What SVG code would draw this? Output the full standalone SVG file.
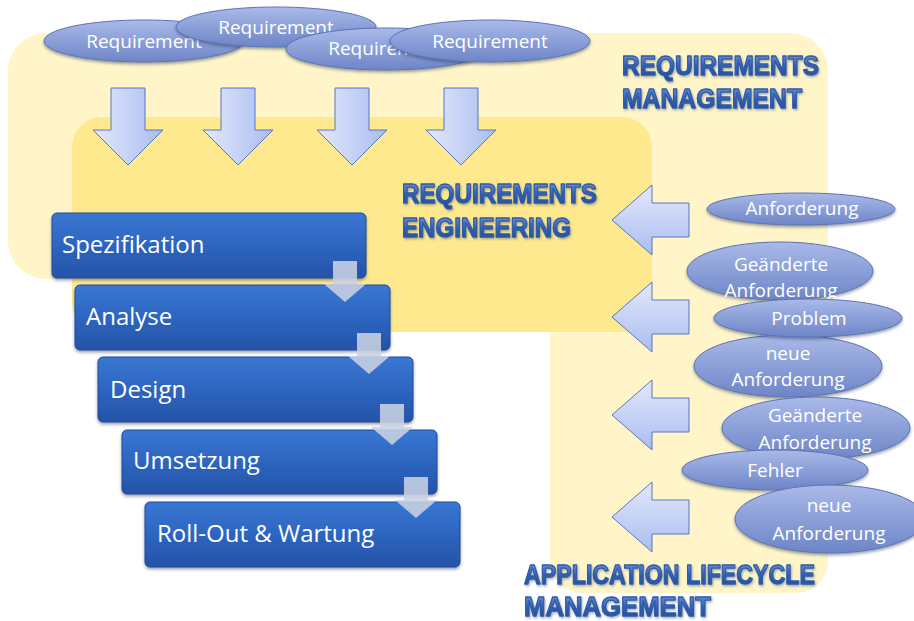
<svg xmlns="http://www.w3.org/2000/svg" width="914" height="621" viewBox="0 0 914 621">
<defs>
<linearGradient id="gDown" x1="0" y1="0" x2="1" y2="0"><stop offset="0" stop-color="#e3e9fb"/><stop offset="1" stop-color="#aabdf0"/></linearGradient>
<linearGradient id="gLeft" x1="0" y1="0" x2="0" y2="1"><stop offset="0" stop-color="#e3e9fb"/><stop offset="1" stop-color="#aabdf0"/></linearGradient>
<linearGradient id="gEll" x1="0" y1="0" x2="0" y2="1"><stop offset="0" stop-color="#aab9e8"/><stop offset="0.45" stop-color="#8ea2da"/><stop offset="1" stop-color="#6e85c6"/></linearGradient>
<linearGradient id="gBox" x1="0" y1="0" x2="0" y2="1"><stop offset="0" stop-color="#3a77d2"/><stop offset="0.5" stop-color="#2d65c0"/><stop offset="1" stop-color="#2553a7"/></linearGradient>
<linearGradient id="gTitle" x1="0" y1="0" x2="0" y2="1"><stop offset="0" stop-color="#7c9fe0"/><stop offset="0.5" stop-color="#3060b2"/><stop offset="1" stop-color="#1f4b9a"/></linearGradient>
<filter id="sh" x="-10%" y="-20%" width="120%" height="150%"><feDropShadow dx="0" dy="2" stdDeviation="1.5" flood-color="#203050" flood-opacity="0.45"/></filter>
<filter id="tsh" x="-5%" y="-20%" width="110%" height="150%"><feDropShadow dx="1" dy="1.5" stdDeviation="0.8" flood-color="#5a6a80" flood-opacity="0.55"/></filter>
<style>
.ell{fill:url(#gEll);stroke:#5d73b6;stroke-width:1;filter:url(#sh)}
.et{font-family:"Open Sans","Liberation Sans",sans-serif;font-size:19px;fill:#ffffff;text-anchor:middle}
.dn{fill:url(#gDown);stroke:#5577c4;stroke-width:1}
.lf{fill:url(#gLeft);stroke:#5577c4;stroke-width:1}
.box{fill:url(#gBox);stroke:#1f4c9c;stroke-width:1;filter:url(#sh)}
.bt{font-family:"Open Sans","Liberation Sans",sans-serif;font-size:24px;fill:#ffffff}
.ga{fill:#c9d1e3;fill-opacity:0.88}
.tt{font-family:"Liberation Sans",Arial,sans-serif;font-weight:bold;font-size:27px;fill:url(#gTitle);stroke:#2e5aa8;stroke-width:1.3;stroke-linejoin:round;filter:url(#tsh)}
</style>
</defs>

<g id="areas">
<rect id="rm-area" x="8" y="33" width="820" height="246" rx="38" fill="#fff5c9"/>
<rect id="alm-area" x="550" y="150" width="278" height="443" rx="32" fill="#fff5c9"/>
<rect id="re-area" x="72" y="117" width="580" height="215" rx="30" fill="#ffe98f"/>
</g>

<g id="titles">
<text class="tt" x="622" y="75" textLength="197" lengthAdjust="spacingAndGlyphs">REQUIREMENTS</text>
<text class="tt" x="622" y="108" textLength="180" lengthAdjust="spacingAndGlyphs">MANAGEMENT</text>
<text class="tt" x="402" y="203" textLength="195" lengthAdjust="spacingAndGlyphs">REQUIREMENTS</text>
<text class="tt" x="402" y="237" textLength="169" lengthAdjust="spacingAndGlyphs">ENGINEERING</text>
<text class="tt" x="524" y="584" textLength="291" lengthAdjust="spacingAndGlyphs">APPLICATION LIFECYCLE</text>
<text class="tt" x="524" y="616" textLength="187" lengthAdjust="spacingAndGlyphs">MANAGEMENT</text>
</g>

<g id="connectors">
<path class="dn" d="M111,88 H145 V130 H163 L128,165 L93,130 H111 Z"/>
<path class="dn" d="M221,88 H255 V130 H273 L238,165 L203,130 H221 Z"/>
<path class="dn" d="M335,88 H369 V130 H387 L352,165 L317,130 H335 Z"/>
<path class="dn" d="M444,88 H478 V130 H496 L461,165 L426,130 H444 Z"/>
<path class="lf" d="M612,220 L652,185 V203 H689 V237 H652 V255 Z"/>
<path class="lf" d="M612,317 L652,282 V300 H689 V334 H652 V352 Z"/>
<path class="lf" d="M612,415 L652,380 V398 H689 V432 H652 V450 Z"/>
<path class="lf" d="M612,517 L652,482 V500 H689 V534 H652 V552 Z"/>
</g>

<g id="req1"><ellipse class="ell" cx="144" cy="41" rx="100" ry="21"/><text class="et" x="144" y="48">Requirement</text></g>
<g id="req2"><ellipse class="ell" cx="276" cy="27" rx="100" ry="20"/><text class="et" x="276" y="34">Requirement</text></g>
<g id="req3"><ellipse class="ell" cx="386" cy="49" rx="100" ry="21"/><text class="et" x="386" y="55">Requirement</text></g>
<g id="req4"><ellipse class="ell" cx="490" cy="41" rx="100" ry="21"/><text class="et" x="490" y="48">Requirement</text></g>

<g id="in1"><ellipse class="ell" cx="801" cy="209" rx="94" ry="16"/><text class="et" x="802" y="215">Anforderung</text></g>
<g id="in2"><ellipse class="ell" cx="780" cy="271" rx="93" ry="29"/><text class="et" x="781" y="271">Geänderte</text><text class="et" x="781" y="297">Anforderung</text></g>
<g id="in4"><ellipse class="ell" cx="788" cy="366" rx="94" ry="31"/><text class="et" x="788" y="360">neue</text><text class="et" x="788" y="386">Anforderung</text></g>
<g id="in3"><ellipse class="ell" cx="808" cy="318" rx="94" ry="19"/><text class="et" x="809" y="325">Problem</text></g>
<g id="in5"><ellipse class="ell" cx="816" cy="428" rx="94" ry="31"/><text class="et" x="815" y="422">Geänderte</text><text class="et" x="815" y="449">Anforderung</text></g>
<g id="in6"><ellipse class="ell" cx="775" cy="470" rx="93" ry="20"/><text class="et" x="775" y="477">Fehler</text></g>
<g id="in7"><ellipse class="ell" cx="830" cy="519" rx="95" ry="34"/><text class="et" x="829" y="512">neue</text><text class="et" x="829" y="540">Anforderung</text></g>

<g id="spezifikation"><rect class="box" x="52" y="213" width="314" height="65" rx="5"/><text class="bt" x="62" y="253">Spezifikation</text></g>
<g id="analyse"><rect class="box" x="75" y="285" width="315" height="65" rx="5"/><text class="bt" x="86" y="325">Analyse</text></g>
<g id="design"><rect class="box" x="98" y="357" width="315" height="65" rx="5"/><text class="bt" x="110" y="398">Design</text></g>
<g id="umsetzung"><rect class="box" x="122" y="430" width="315" height="64" rx="5"/><text class="bt" x="133" y="469">Umsetzung</text></g>
<g id="rollout"><rect class="box" x="145" y="502" width="315" height="65" rx="5"/><text class="bt" x="157" y="542">Roll-Out &amp; Wartung</text></g>

<g id="flow-arrows">
<path class="ga" d="M333,261 H357 V284 H366 L345,302 L324,284 H333 Z"/>
<path class="ga" d="M357,333 H381 V356 H390 L369,374 L348,356 H357 Z"/>
<path class="ga" d="M380,404 H404 V427 H413 L392,445 L371,427 H380 Z"/>
<path class="ga" d="M404,477 H428 V500 H437 L416,518 L395,500 H404 Z"/>
</g>
</svg>
